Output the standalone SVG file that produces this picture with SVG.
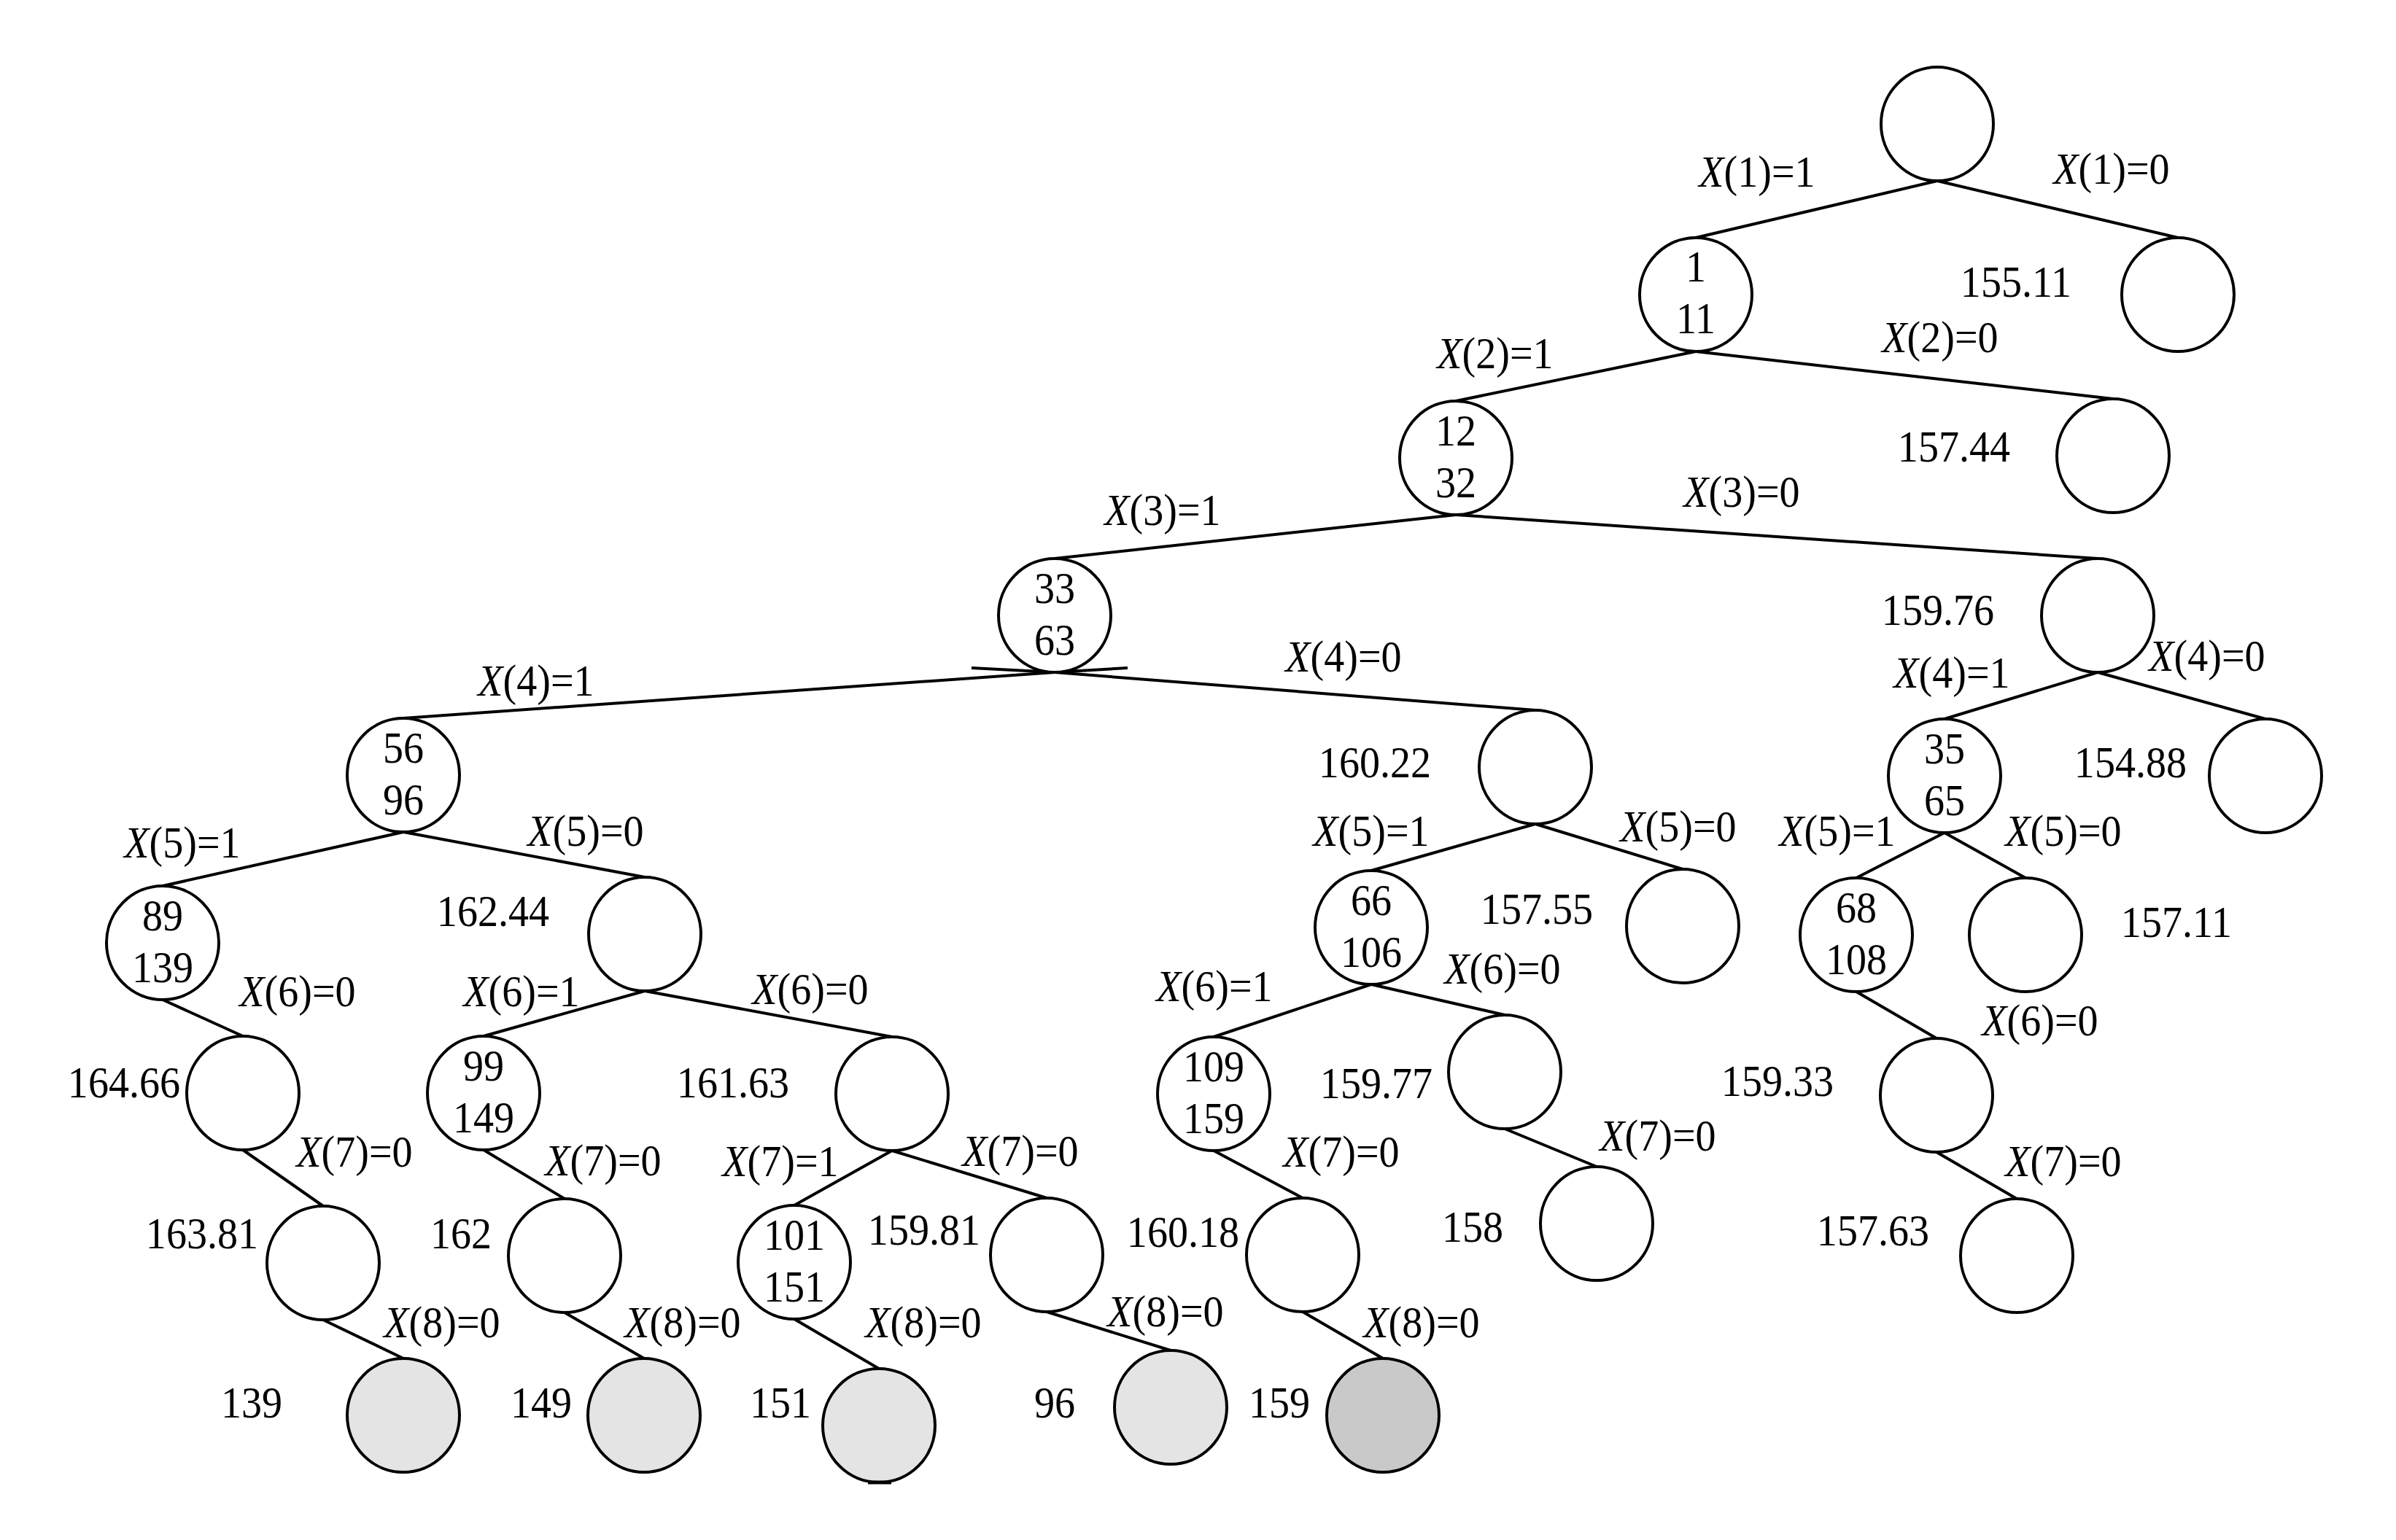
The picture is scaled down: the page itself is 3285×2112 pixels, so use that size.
<svg xmlns="http://www.w3.org/2000/svg" width="3285" height="2112" viewBox="0 0 3285 2112">
<style>
.n{fill:#fff;stroke:#000;stroke-width:4}
.g1{fill:#e4e4e4;stroke:#000;stroke-width:4}
.g2{fill:#c9c9c9;stroke:#000;stroke-width:4}
.e line,.e path{stroke:#000;stroke-width:4;fill:none}
text{font-family:"Liberation Serif","Times New Roman",serif;font-size:61px;fill:#000;text-anchor:middle;transform-box:fill-box;transform-origin:center;transform:scaleX(0.92)}
.i{font-style:italic}
</style>
<rect width="3285" height="2112" fill="#fff"/>
<g id="connectors" class="e">
<line x1="2656" y1="248" x2="2325" y2="326"/>
<line x1="2656" y1="248" x2="2986" y2="326"/>
<line x1="2325" y1="482" x2="1996" y2="550"/>
<line x1="2325" y1="482" x2="2897" y2="547"/>
<line x1="1996" y1="706" x2="1446" y2="766"/>
<line x1="1996" y1="706" x2="2876" y2="766"/>
<line x1="1446" y1="922" x2="553" y2="985"/>
<line x1="1446" y1="922" x2="2105" y2="974"/>
<path d="M1332,916 L1446,922 L1546,916"/>
<line x1="2876" y1="922" x2="2666" y2="986"/>
<line x1="2876" y1="922" x2="3106" y2="986"/>
<line x1="553" y1="1141" x2="223" y2="1215"/>
<line x1="553" y1="1141" x2="884" y2="1203"/>
<line x1="2105" y1="1130" x2="1880" y2="1194"/>
<line x1="2105" y1="1130" x2="2307" y2="1192"/>
<line x1="2666" y1="1142" x2="2545" y2="1204"/>
<line x1="2666" y1="1142" x2="2777" y2="1204"/>
<line x1="223" y1="1371" x2="333" y2="1421"/>
<line x1="884" y1="1359" x2="663" y2="1421"/>
<line x1="884" y1="1359" x2="1223" y2="1422"/>
<line x1="1880" y1="1350" x2="1664" y2="1422"/>
<line x1="1880" y1="1350" x2="2063" y2="1392"/>
<line x1="2545" y1="1360" x2="2655" y2="1424"/>
<line x1="333" y1="1577" x2="443" y2="1654"/>
<line x1="663" y1="1577" x2="774" y2="1644"/>
<line x1="1223" y1="1578" x2="1089" y2="1653"/>
<line x1="1223" y1="1578" x2="1435" y2="1643"/>
<line x1="1664" y1="1578" x2="1786" y2="1643"/>
<line x1="2063" y1="1548" x2="2189" y2="1600"/>
<line x1="2655" y1="1580" x2="2765" y2="1644"/>
<line x1="443" y1="1810" x2="553" y2="1863"/>
<line x1="774" y1="1800" x2="883" y2="1863"/>
<line x1="1089" y1="1809" x2="1205" y2="1877"/>
<line x1="1435" y1="1799" x2="1605" y2="1852"/>
<line x1="1786" y1="1799" x2="1896" y2="1863"/>
</g>
<g id="edge-labels">
<text x="2409" y="256"><tspan class="i">X</tspan>(1)=1</text>
<text x="2895" y="252"><tspan class="i">X</tspan>(1)=0</text>
<text x="2050" y="505"><tspan class="i">X</tspan>(2)=1</text>
<text x="2660" y="483"><tspan class="i">X</tspan>(2)=0</text>
<text x="1594" y="720"><tspan class="i">X</tspan>(3)=1</text>
<text x="2388" y="695"><tspan class="i">X</tspan>(3)=0</text>
<text x="735" y="954"><tspan class="i">X</tspan>(4)=1</text>
<text x="1842" y="921"><tspan class="i">X</tspan>(4)=0</text>
<text x="2676" y="943"><tspan class="i">X</tspan>(4)=1</text>
<text x="3026" y="920"><tspan class="i">X</tspan>(4)=0</text>
<text x="250" y="1176"><tspan class="i">X</tspan>(5)=1</text>
<text x="803" y="1160"><tspan class="i">X</tspan>(5)=0</text>
<text x="1880" y="1160"><tspan class="i">X</tspan>(5)=1</text>
<text x="2301" y="1154"><tspan class="i">X</tspan>(5)=0</text>
<text x="2519" y="1160"><tspan class="i">X</tspan>(5)=1</text>
<text x="2829" y="1160"><tspan class="i">X</tspan>(5)=0</text>
<text x="408" y="1380"><tspan class="i">X</tspan>(6)=0</text>
<text x="715" y="1380"><tspan class="i">X</tspan>(6)=1</text>
<text x="1111" y="1377"><tspan class="i">X</tspan>(6)=0</text>
<text x="1665" y="1373"><tspan class="i">X</tspan>(6)=1</text>
<text x="2060" y="1349"><tspan class="i">X</tspan>(6)=0</text>
<text x="2797" y="1420"><tspan class="i">X</tspan>(6)=0</text>
<text x="486" y="1600"><tspan class="i">X</tspan>(7)=0</text>
<text x="827" y="1612"><tspan class="i">X</tspan>(7)=0</text>
<text x="1070" y="1613"><tspan class="i">X</tspan>(7)=1</text>
<text x="1399" y="1599"><tspan class="i">X</tspan>(7)=0</text>
<text x="1839" y="1600"><tspan class="i">X</tspan>(7)=0</text>
<text x="2273" y="1578"><tspan class="i">X</tspan>(7)=0</text>
<text x="2829" y="1613"><tspan class="i">X</tspan>(7)=0</text>
<text x="606" y="1834"><tspan class="i">X</tspan>(8)=0</text>
<text x="936" y="1834"><tspan class="i">X</tspan>(8)=0</text>
<text x="1266" y="1834"><tspan class="i">X</tspan>(8)=0</text>
<text x="1598" y="1819"><tspan class="i">X</tspan>(8)=0</text>
<text x="1949" y="1834"><tspan class="i">X</tspan>(8)=0</text>
</g>
<g id="value-labels">
<text x="2764" y="407">155.11</text>
<text x="2679" y="633">157.44</text>
<text x="2657" y="857">159.76</text>
<text x="1885" y="1066">160.22</text>
<text x="2921" y="1066">154.88</text>
<text x="676" y="1270">162.44</text>
<text x="2107" y="1267">157.55</text>
<text x="2984" y="1285">157.11</text>
<text x="170" y="1505">164.66</text>
<text x="1005" y="1505">161.63</text>
<text x="1887" y="1506">159.77</text>
<text x="2437" y="1503">159.33</text>
<text x="277" y="1712">163.81</text>
<text x="632" y="1712">162</text>
<text x="1267" y="1707">159.81</text>
<text x="1622" y="1710">160.18</text>
<text x="2019" y="1703">158</text>
<text x="2568" y="1708">157.63</text>
<text x="345" y="1944">139</text>
<text x="742" y="1944">149</text>
<text x="1070" y="1944">151</text>
<text x="1446" y="1944">96</text>
<text x="1754" y="1944">159</text>
</g>
<g id="root"><ellipse class="n" cx="2656" cy="170" rx="77" ry="78"/></g>
<g id="n1"><ellipse class="n" cx="2325" cy="404" rx="77" ry="78"/><text x="2325" y="386">1</text><text x="2325" y="457">11</text></g>
<g id="r1"><ellipse class="n" cx="2986" cy="404" rx="77" ry="78"/></g>
<g id="n2"><ellipse class="n" cx="1996" cy="628" rx="77" ry="78"/><text x="1996" y="611">12</text><text x="1996" y="682">32</text></g>
<g id="r2"><ellipse class="n" cx="2897" cy="625" rx="77" ry="78"/></g>
<g id="n3"><ellipse class="n" cx="1446" cy="844" rx="77" ry="78"/><text x="1446" y="827">33</text><text x="1446" y="898">63</text></g>
<g id="r3"><ellipse class="n" cx="2876" cy="844" rx="77" ry="78"/></g>
<g id="n4"><ellipse class="n" cx="553" cy="1063" rx="77" ry="78"/><text x="553" y="1046">56</text><text x="553" y="1117">96</text></g>
<g id="r4a"><ellipse class="n" cx="2105" cy="1052" rx="77" ry="78"/></g>
<g id="n4b"><ellipse class="n" cx="2666" cy="1064" rx="77" ry="78"/><text x="2666" y="1047">35</text><text x="2666" y="1118">65</text></g>
<g id="r4b"><ellipse class="n" cx="3106" cy="1064" rx="77" ry="78"/></g>
<g id="n5"><ellipse class="n" cx="223" cy="1293" rx="77" ry="78"/><text x="223" y="1276">89</text><text x="223" y="1347">139</text></g>
<g id="r5a"><ellipse class="n" cx="884" cy="1281" rx="77" ry="78"/></g>
<g id="n5b"><ellipse class="n" cx="1880" cy="1272" rx="77" ry="78"/><text x="1880" y="1255">66</text><text x="1880" y="1326">106</text></g>
<g id="r5b"><ellipse class="n" cx="2307" cy="1270" rx="77" ry="78"/></g>
<g id="n5c"><ellipse class="n" cx="2545" cy="1282" rx="77" ry="78"/><text x="2545" y="1265">68</text><text x="2545" y="1336">108</text></g>
<g id="r5c"><ellipse class="n" cx="2777" cy="1282" rx="77" ry="78"/></g>
<g id="r6a"><ellipse class="n" cx="333" cy="1499" rx="77" ry="78"/></g>
<g id="n6a"><ellipse class="n" cx="663" cy="1499" rx="77" ry="78"/><text x="663" y="1482">99</text><text x="663" y="1553">149</text></g>
<g id="r6b"><ellipse class="n" cx="1223" cy="1500" rx="77" ry="78"/></g>
<g id="n6b"><ellipse class="n" cx="1664" cy="1500" rx="77" ry="78"/><text x="1664" y="1483">109</text><text x="1664" y="1554">159</text></g>
<g id="r6c"><ellipse class="n" cx="2063" cy="1470" rx="77" ry="78"/></g>
<g id="r6d"><ellipse class="n" cx="2655" cy="1502" rx="77" ry="78"/></g>
<g id="r7a"><ellipse class="n" cx="443" cy="1732" rx="77" ry="78"/></g>
<g id="r7b"><ellipse class="n" cx="774" cy="1722" rx="77" ry="78"/></g>
<g id="n7"><ellipse class="n" cx="1089" cy="1731" rx="77" ry="78"/><text x="1089" y="1714">101</text><text x="1089" y="1785">151</text></g>
<g id="r7c"><ellipse class="n" cx="1435" cy="1721" rx="77" ry="78"/></g>
<g id="r7d"><ellipse class="n" cx="1786" cy="1721" rx="77" ry="78"/></g>
<g id="r7e"><ellipse class="n" cx="2189" cy="1678" rx="77" ry="78"/></g>
<g id="r7f"><ellipse class="n" cx="2765" cy="1722" rx="77" ry="78"/></g>
<g id="leaf1"><ellipse class="g1" cx="553" cy="1941" rx="77" ry="78"/></g>
<g id="leaf2"><ellipse class="g1" cx="883" cy="1941" rx="77" ry="78"/></g>
<g id="leaf3"><ellipse class="g1" cx="1205" cy="1955" rx="77" ry="78"/><line x1="1190" y1="2033" x2="1222" y2="2033" stroke="#000" stroke-width="5"/></g>
<g id="leaf4"><ellipse class="g1" cx="1605" cy="1930" rx="77" ry="78"/></g>
<g id="leaf5"><ellipse class="g2" cx="1896" cy="1941" rx="77" ry="78"/></g>
</svg>
